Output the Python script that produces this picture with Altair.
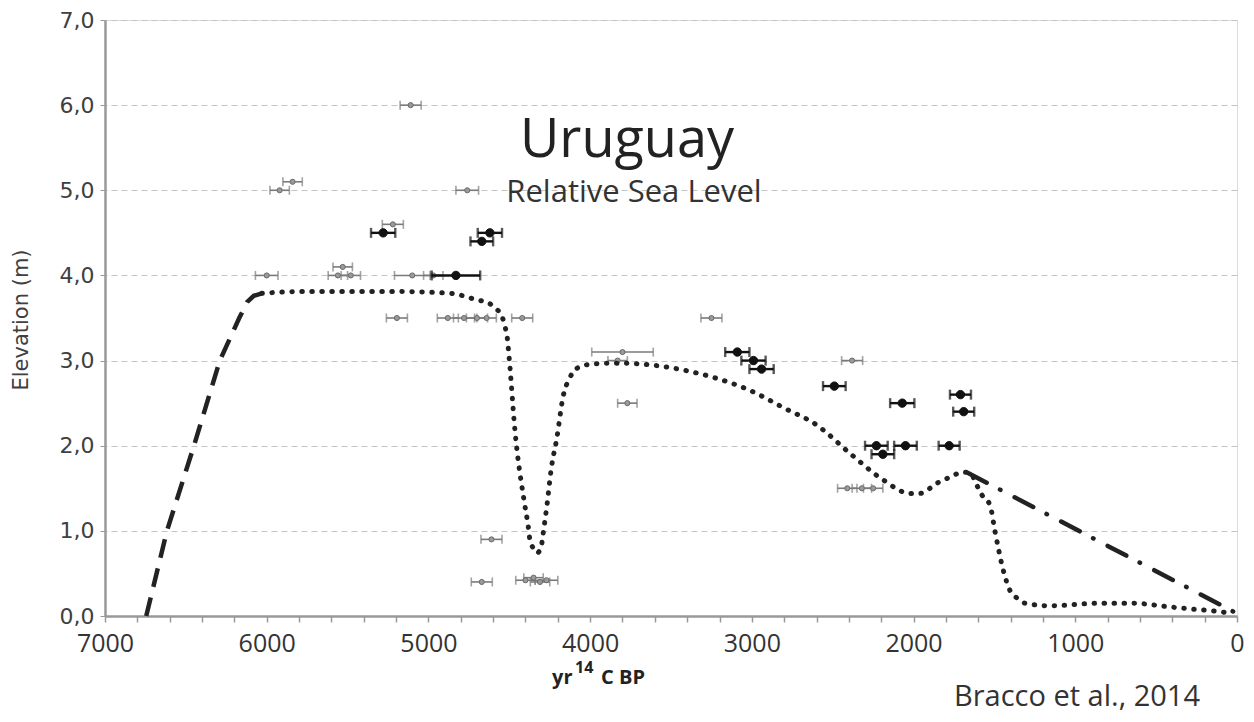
import altair as alt
import pandas as pd

# ---------------- data ----------------
gray_age = [5110, 5840, 5920, 4760, 5220, 6000, 5530, 5560, 5480, 5100, 4970,
            5195, 4880, 4780, 4700, 4640, 4420, 3250, 3800, 3830, 3770, 2380,
            2410, 2320, 2250, 4610, 4670, 4400, 4350, 4310, 4270]
gray_elev = [6.0, 5.1, 5.0, 5.0, 4.6, 4.0, 4.1, 4.0, 4.0, 4.0, 4.0,
             3.5, 3.5, 3.5, 3.5, 3.5, 3.5, 3.5, 3.1, 3.0, 2.5, 3.0,
             1.5, 1.5, 1.5, 0.9, 0.4, 0.42, 0.45, 0.4, 0.42]
gray_err = [65, 60, 60, 70, 65, 70, 60, 60, 60, 110, 60,
            65, 65, 65, 65, 60, 65, 65, 190, 60, 60, 65,
            60, 60, 60, 65, 65, 60, 60, 60, 70]

black_age = [5280, 4620, 4670, 4830, 3090, 2990, 2940, 2490, 2070, 1710,
             1690, 2230, 2050, 1780, 2190]
black_elev = [4.5, 4.5, 4.4, 4.0, 3.1, 3.0, 2.9, 2.7, 2.5, 2.6,
              2.4, 2.0, 2.0, 2.0, 1.9]
black_err = [75, 75, 70, 150, 75, 75, 75, 70, 75, 65,
             65, 70, 70, 65, 70]

dashed_age = [6745, 6617, 6450, 6290, 6170, 6120, 6080, 6030]
dashed_elev = [0.0, 1.0, 2.0, 3.0, 3.5, 3.69, 3.76, 3.79]

dotted_age = [6030, 5795, 5176, 4867, 4694, 4632, 4583, 4545, 4527, 4514,
              4502, 4465, 4403, 4384, 4372, 4353, 4329, 4304, 4292, 4279,
              4267, 4242, 4205, 4168, 4125, 4081, 3983, 3834, 3630, 3426,
              3216, 3012, 2808, 2597, 2393, 2189, 2022, 1960, 1855, 1775,
              1694, 1651, 1602, 1577, 1527, 1497, 1447, 1404, 1360, 1311,
              1156, 847, 643, 433, 272, 148, 25]
dotted_elev = [3.79, 3.81, 3.81, 3.79, 3.71, 3.68, 3.61, 3.52, 3.40, 3.29,
               3.06, 2.18, 1.29, 1.07, 0.89, 0.80, 0.74, 0.80, 0.95, 1.13,
               1.30, 1.71, 2.10, 2.57, 2.80, 2.91, 2.96, 2.97, 2.95, 2.89,
               2.79, 2.65, 2.45, 2.24, 1.91, 1.60, 1.44, 1.44, 1.56, 1.63,
               1.69, 1.68, 1.51, 1.42, 1.30, 1.00, 0.55, 0.30, 0.21, 0.15,
               0.12, 0.15, 0.15, 0.11, 0.08, 0.06, 0.03]

dashdot_age = [1663, 0]
dashdot_elev = [1.68, 0.03]

x_tick_values = list(range(0, 7001, 200))
y_tick_values = [0, 1, 2, 3, 4, 5, 6, 7]

# ---------------- tables ----------------
gray = pd.DataFrame({"age": gray_age, "elev": gray_elev, "err": gray_err})
gray["lo"] = gray["age"] - gray["err"]
gray["hi"] = gray["age"] + gray["err"]
black = pd.DataFrame({"age": black_age, "elev": black_elev, "err": black_err})
black["lo"] = black["age"] - black["err"]
black["hi"] = black["age"] + black["err"]
dashed = pd.DataFrame({"age": dashed_age, "elev": dashed_elev})
dotted = pd.DataFrame({"age": dotted_age, "elev": dotted_elev})
dashdot = pd.DataFrame({"age": dashdot_age, "elev": dashdot_elev})

xscale = alt.Scale(domain=[0, 7000], reverse=True, nice=False)
yscale = alt.Scale(domain=[0, 7], nice=False)

xaxis = alt.Axis(values=x_tick_values, title=None, grid=False,
                 labelExpr="datum.value % 1000 == 0 ? format(datum.value, 'd') : ''",
                 labelFontSize=25, labelFont="Open Sans",
                 labelColor="#333", labelPadding=9, labelFlush=False,
                 labelOverlap=False, labelBound=False,
                 tickSize=6, tickColor="#999", tickWidth=1.5,
                 domainColor="#999", domainWidth=2.5)
yaxis = alt.Axis(values=y_tick_values, title=None, grid=True,
                 gridDash=[6, 4], gridColor="#c4c4c4", gridWidth=1.2,
                 labelExpr="replace(format(datum.value, '.1f'), '.', ',')",
                 labelFontSize=22, labelFont="DejaVu Sans", labelColor="#404040",
                 labelPadding=6, tickSize=5, tickColor="#999",
                 domainColor="#999", domainWidth=2.5)


def X(field):
    return alt.X(field, type="quantitative", scale=xscale, axis=xaxis)


def Y(field):
    return alt.Y(field, type="quantitative", scale=yscale, axis=yaxis)


def points_layer(df, color, width, capsize, psize, pfill, pstroke):
    base = alt.Chart(df)
    bar = base.mark_rule(color=color, strokeWidth=width).encode(
        x=X("lo"), x2="hi:Q", y=Y("elev"))
    cap_lo = base.mark_tick(color=color, orient="vertical", size=capsize,
                            thickness=width).encode(x=X("lo"), y=Y("elev"))
    cap_hi = base.mark_tick(color=color, orient="vertical", size=capsize,
                            thickness=width).encode(x=X("hi"), y=Y("elev"))
    pts = base.mark_point(filled=True, size=psize, fill=pfill, stroke=pstroke,
                          strokeWidth=1, opacity=1).encode(x=X("age"), y=Y("elev"))
    return [bar, cap_lo, cap_hi, pts]


gray_layers = points_layer(gray, "#7a7a7a", 1.6, 9, 26, "#9a9a9a", "#6a6a6a")
black_layers = points_layer(black, "#111111", 2.4, 10, 70, "#111111", "#111111")

dashed_line = alt.Chart(dashed).mark_line(
    color="#222", strokeWidth=4.5, strokeDash=[19, 11]).encode(
    x=X("age"), y=Y("elev"))
dotted_line = alt.Chart(dotted).mark_line(
    color="#222", strokeWidth=5, strokeDash=[0.5, 9.5], strokeCap="round",
    interpolate="monotone").encode(x=X("age"), y=Y("elev"))
dashdot_line = alt.Chart(dashdot).mark_line(
    color="#222", strokeWidth=4.5, strokeDash=[21, 15, 0.5, 16],
    strokeCap="round").encode(x=X("age"), y=Y("elev"))


def label(text, x, y, size, font="Open Sans", weight="normal", color="#222",
          align="center", baseline="alphabetic", angle=0):
    return alt.Chart(pd.DataFrame({"t": [text]})).mark_text(
        fontSize=size, font=font, fontWeight=weight, color=color, align=align,
        baseline=baseline, angle=angle).encode(
        x=alt.value(x), y=alt.value(y), text="t:N")


texts = [
    label("Uruguay", 522, 137, 54),
    label("Relative Sea Level", 529, 182, 31, color="#333"),
    label("Bracco et al., 2014", 972, 686, 29, color="#333"),
    label("yr", 447, 664, 20, weight="bold", color="#222", align="left"),
    label("14", 470, 653, 16, weight="bold", color="#222", align="left"),
    label("C BP", 496, 664, 20, weight="bold", color="#222", align="left"),
    label("Elevation (m)", -83, 300, 21, font="DejaVu Sans", color="#404040",
          baseline="middle", angle=270),
]

chart = alt.layer(
    dashed_line, *gray_layers, *black_layers, dotted_line, dashdot_line, *texts
).properties(
    width=1132, height=596,
    padding={"left": 97, "top": 12, "right": 9, "bottom": 98},
    autosize=alt.AutoSizeParams(type="none"),
).configure_view(
    stroke="#999", strokeWidth=2.5
).configure_axisX(
    labelOverlap=False
).configure(background="white")

chart.save("out.html", embed_options={"renderer": "svg", "actions": False})
